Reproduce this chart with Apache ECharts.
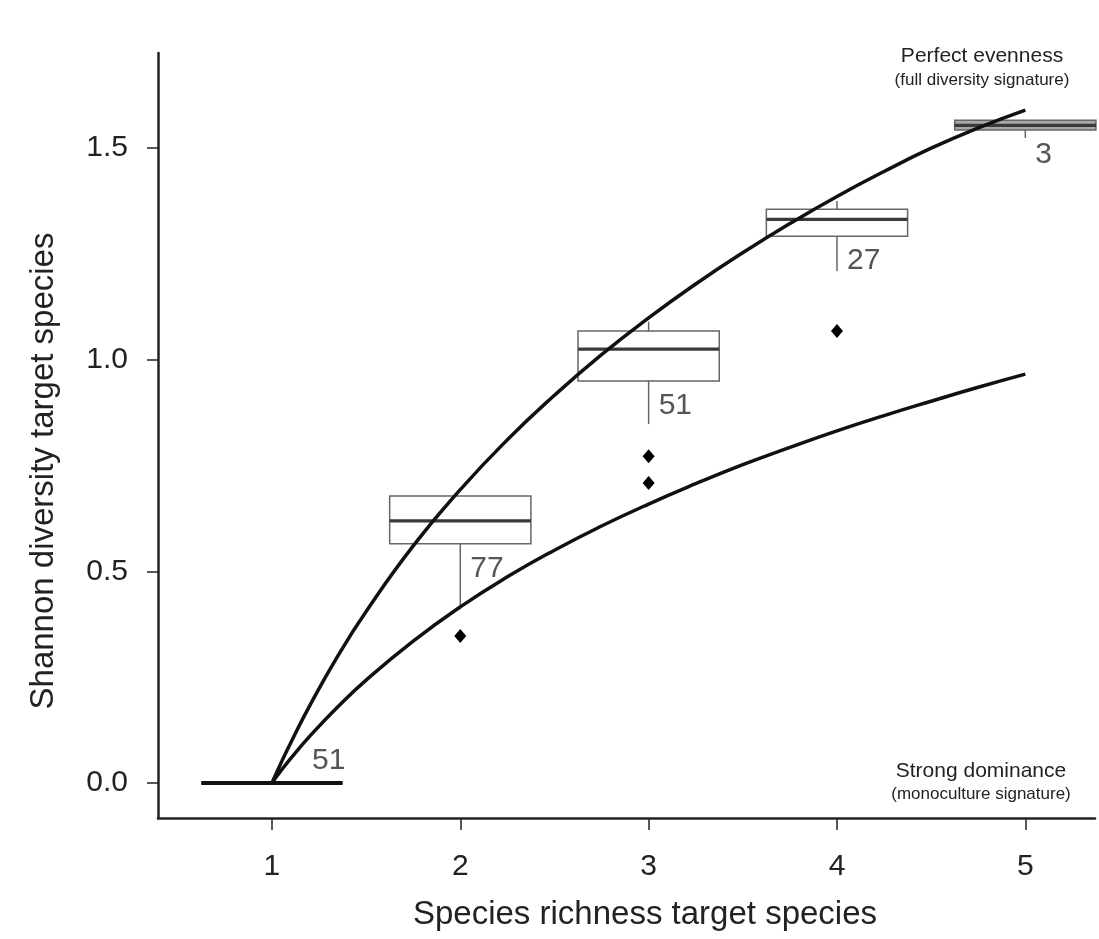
<!DOCTYPE html>
<html>
<head>
<meta charset="utf-8">
<script src="https://cdn.jsdelivr.net/npm/echarts@6/dist/echarts.min.js"></script>
<style>
  html, body { margin: 0; padding: 0; background: #fff; }
  #chart { width: 1099px; height: 939px; }
</style>
</head>
<body>
<div id="chart"></div>
<script>
// box plot summary per species richness level
const richness = [1, 2, 3, 4, 5];
const whiskerLow = [0, 0.41, 0.848, 1.21, 1.524];
const q1 = [0, 0.565, 0.95, 1.292, 1.543];
const median = [0, 0.619, 1.025, 1.332, 1.554];
const q3 = [0, 0.678, 1.068, 1.356, 1.566];
const whiskerHigh = [0, 0.678, 1.09, 1.375, 1.566];
const counts = [51, 77, 51, 27, 3];

// outliers
const outlierX = [2, 3, 3, 4];
const outlierY = [0.347, 0.772, 0.709, 1.068];

// reference curves (perfect evenness / strong dominance)
const curveX = [1, 1.05, 1.1, 1.2, 1.35, 1.5, 1.75, 2, 2.25, 2.5, 2.75, 3, 3.25, 3.5, 3.75, 4, 4.25, 4.5, 4.75, 5];
const evenCurve = [0, 0.049, 0.095, 0.182, 0.300, 0.405, 0.560, 0.693, 0.811, 0.916, 1.012, 1.099, 1.179, 1.253, 1.322, 1.386, 1.445, 1.500, 1.548, 1.590];
const dominCurve = [0, 0.03, 0.058, 0.11, 0.18, 0.243, 0.335, 0.416, 0.487, 0.55, 0.607, 0.659, 0.707, 0.752, 0.793, 0.832, 0.868, 0.902, 0.935, 0.966];

// axis ticks
const xTicks = [1, 2, 3, 4, 5];
const yTicks = [0, 0.5, 1.0, 1.5];

const FONT = '"Liberation Sans", Arial, sans-serif';
const chart = echarts.init(document.getElementById('chart'));

const boxData = richness.map((x, i) => [x, whiskerLow[i], q1[i], median[i], q3[i], whiskerHigh[i], counts[i]]);

function renderBox(params, api) {
  const x = api.value(0);
  const lo = api.value(1), b1 = api.value(2), md = api.value(3), b3 = api.value(4), hi = api.value(5);
  const n = api.value(6);
  const half = 0.375;
  const tl = api.coord([x - half, b3]);
  const br = api.coord([x + half, b1]);
  const mL = api.coord([x - half, md]);
  const mR = api.coord([x + half, md]);
  const c1 = api.coord([x, b1]);
  const cLo = api.coord([x, lo]);
  const c3 = api.coord([x, b3]);
  const cHi = api.coord([x, hi]);
  const grey = '#666';
  const flat = b1 === b3;
  const children = [
    { type: 'line', shape: { x1: c1[0], y1: c1[1], x2: cLo[0], y2: cLo[1] }, style: { stroke: grey, lineWidth: 1.5 } },
    { type: 'line', shape: { x1: c3[0], y1: c3[1], x2: cHi[0], y2: cHi[1] }, style: { stroke: grey, lineWidth: 1.5 } },
    {
      type: 'rect',
      shape: { x: tl[0], y: tl[1], width: br[0] - tl[0], height: br[1] - tl[1] },
      style: { fill: params.dataIndex === 4 ? '#a8a8a8' : 'rgba(0,0,0,0)', stroke: grey, lineWidth: 1.5 }
    },
    { type: 'line', shape: { x1: mL[0], y1: mL[1], x2: mR[0], y2: mR[1] }, style: { stroke: flat ? '#111' : '#3a3a3a', lineWidth: flat ? 4 : 3.2 } }
  ];
  // sample size label
  let tx, ty;
  if (flat && b1 === lo) {
    tx = c1[0] + 40; ty = c1[1] - 22;
  } else {
    tx = c1[0] + 10; ty = c1[1] + 25;
  }
  children.push({
    type: 'text',
    style: { text: String(n), x: tx, y: ty, font: '30px ' + FONT, fill: '#555', textAlign: 'left', textVerticalAlign: 'middle' }
  });
  return { type: 'group', children: children };
}

const option = {
  animation: false,
  backgroundColor: '#fff',
  grid: { left: 158, right: 4, top: 53, bottom: 121, containLabel: false, outerBoundsMode: 'none' },
  xAxis: {
    type: 'value',
    min: 0.395,
    max: 5.37,
    splitLine: { show: false },
    axisLine: { onZero: false, lineStyle: { color: '#222', width: 2.5 } },
    axisTick: { show: true, customValues: xTicks, length: 12, lineStyle: { color: '#222', width: 1.5 } },
    axisLabel: { customValues: xTicks, margin: 34, fontSize: 30, color: '#222', fontFamily: FONT, showMinLabel: true, showMaxLabel: true }
  },
  yAxis: {
    type: 'value',
    min: -0.083,
    max: 1.725,
    splitLine: { show: false },
    axisLine: { show: true, onZero: false, lineStyle: { color: '#222', width: 2.5 } },
    axisTick: { show: true, customValues: yTicks, length: 11, lineStyle: { color: '#222', width: 1.5 } },
    axisLabel: { customValues: yTicks, margin: 30, fontSize: 30, color: '#222', fontFamily: FONT, formatter: v => v.toFixed(1) }
  },
  graphic: [
    { type: 'text', x: 645, y: 915, style: { text: 'Species richness target species', font: '33px ' + FONT, fill: '#222', textAlign: 'center', textVerticalAlign: 'middle' } },
    { type: 'text', x: 44, y: 471, rotation: Math.PI / 2, style: { text: 'Shannon diversity target species', font: '33px ' + FONT, fill: '#222', textAlign: 'center', textVerticalAlign: 'middle' } },
    { type: 'text', x: 982, y: 56, style: { text: 'Perfect evenness', font: '21px ' + FONT, fill: '#222', textAlign: 'center', textVerticalAlign: 'middle' } },
    { type: 'text', x: 982, y: 80, style: { text: '(full diversity signature)', font: '17px ' + FONT, fill: '#222', textAlign: 'center', textVerticalAlign: 'middle' } },
    { type: 'text', x: 981, y: 771, style: { text: 'Strong dominance', font: '21px ' + FONT, fill: '#222', textAlign: 'center', textVerticalAlign: 'middle' } },
    { type: 'text', x: 981, y: 794, style: { text: '(monoculture signature)', font: '17px ' + FONT, fill: '#222', textAlign: 'center', textVerticalAlign: 'middle' } }
  ],
  series: [
    {
      type: 'custom',
      renderItem: renderBox,
      data: boxData,
      encode: { x: 0, y: [1, 2, 3, 4, 5] },
      z: 2,
      silent: true
    },
    {
      type: 'line',
      data: curveX.map((x, i) => [x, evenCurve[i]]),
      smooth: 0.5,
      showSymbol: false,
      lineStyle: { color: '#111', width: 3.5 },
      z: 3
    },
    {
      type: 'line',
      data: curveX.map((x, i) => [x, dominCurve[i]]),
      smooth: 0.5,
      showSymbol: false,
      lineStyle: { color: '#111', width: 3.5 },
      z: 3
    },
    {
      type: 'scatter',
      data: outlierX.map((x, i) => [x, outlierY[i]]),
      symbol: 'diamond',
      symbolSize: [12, 14],
      itemStyle: { color: '#000', opacity: 1 },
      z: 4
    }
  ]
};

chart.setOption(option);
</script>
</body>
</html>
